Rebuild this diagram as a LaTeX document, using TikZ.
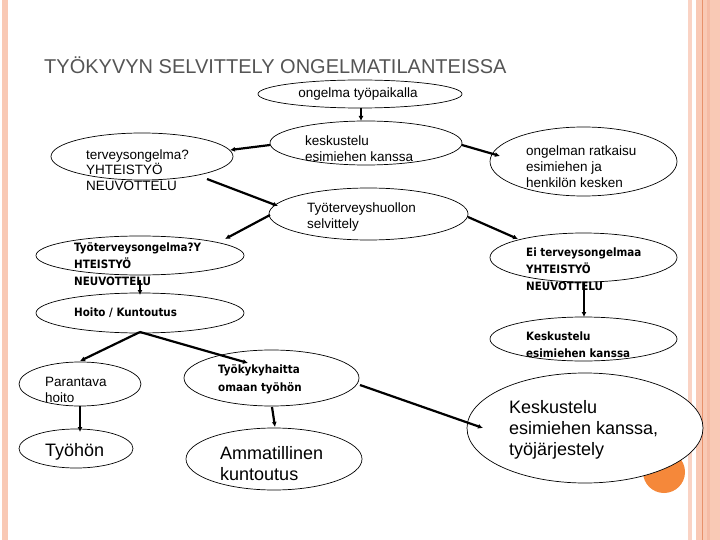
\documentclass[tikz,border=0pt]{standalone}
\usepackage{fontspec}
\setmainfont{Liberation Sans}
\newfontfamily\bnfont{DejaVu Sans Condensed}
\usetikzlibrary{calc,arrows.meta,shapes.geometric}
\definecolor{stripA}{HTML}{F9C9B5}
\definecolor{stripB}{HTML}{FAD3C4}
\definecolor{stripC}{HTML}{F5BBA5}
\definecolor{stripLine}{HTML}{E8916B}
\definecolor{titlegray}{HTML}{555555}
\definecolor{dotorange}{HTML}{F5883A}
\tikzset{
  oval/.style={ellipse, draw=black, line width=0.7pt, fill=white, inner sep=0pt},
  txt/.style={anchor=base west, inner sep=0pt, align=left, text=black},
  small/.style={txt, font=\fontsize{13.5}{16}\selectfont},
  big/.style={txt, font=\fontsize{18}{21}\selectfont},
  narrow/.style={txt, font=\bnfont\bfseries\fontsize{11.5}{17}\selectfont},
  link/.style={line width=2.2pt, -{Latex[length=5pt,width=5pt]}}
}
\begin{document}
\begin{tikzpicture}[x=1pt,y=-1pt]
\useasboundingbox (0,0) rectangle (720,540);
\fill[white] (0,0) rectangle (720,540);
% page borders
\fill[stripA] (2,0) rectangle (8,540);
\fill[stripB] (688,0) rectangle (692,540);
\fill[stripA] (696,0) rectangle (720,540);
\fill[stripC] (707,0) rectangle (710,540);
\fill[stripLine] (701.8,0) rectangle (703,540);
% title
\node[anchor=base west, inner sep=0pt, text=titlegray, font=\fontsize{20}{24}\selectfont] (title) at (44,74) {TYÖKYVYN SELVITTELY ONGELMATILANTEISSA};
% orange dot
\fill[dotorange] (664,472) circle (21);
% ellipses
\node[oval, minimum width=204, minimum height=28] (e1) at (360,94) {};
\node[oval, minimum width=192, minimum height=44] (e2) at (366,143) {};
\node[oval, minimum width=182, minimum height=47] (e3) at (142,156.5) {};
\node[oval, minimum width=187, minimum height=69] (e4) at (583.5,161.5) {};
\node[oval, minimum width=199, minimum height=52] (e5) at (368.5,214) {};
\node[oval, minimum width=208, minimum height=39] (e6) at (140,255.5) {};
\node[oval, minimum width=187, minimum height=49] (e7) at (583.5,257.5) {};
\node[oval, minimum width=208, minimum height=40] (e8) at (140,313) {};
\node[oval, minimum width=187, minimum height=44] (e9) at (583.5,339) {};
\node[oval, minimum width=122, minimum height=44] (e10) at (80,384) {};
\node[oval, minimum width=175, minimum height=56] (e11) at (271.5,378) {};
\node[oval, minimum width=114, minimum height=39] (e12) at (76,448.5) {};
\node[oval, minimum width=176, minimum height=62] (e13) at (274,459) {};
\node[oval, minimum width=236, minimum height=110] (e14) at (585,428) {};
% connectors
\draw[link] ($(e1)+(1,14)$) -- ($(e2)+(-5,-22)$);
\draw[link] ($(e2)+(-96,2)$) -- ($(e3)+(88,-6.5)$);
\draw[link] ($(e2)+(96,2)$) -- ($(e4)+(-83.5,-5.5)$);
\draw[link] ($(e3)+(65,22.5)$) -- ($(e5)+(-90.5,-8)$);
\draw[link] ($(e5)+(-98.5,1)$) -- ($(e6)+(85,-16.5)$);
\draw[link] ($(e5)+(99.5,3)$) -- ($(e7)+(-65.5,-18.5)$);
\draw[link] ($(e6)+(0,24)$) -- ($(e8)+(0,-18)$);
\draw[link] ($(e7)+(0.5,25.5)$) -- ($(e9)+(0.5,-22)$);
\draw[link] ($(e8)+(0,19)$) -- ($(e10)+(0,-23)$);
\draw[link] ($(e8)+(0,19)$) -- ($(e11)+(-23.5,-15)$);
\draw[link] ($(e10)+(0,22)$) -- ($(e12)+(4,-16.5)$);
\draw[link] ($(e11)+(0.5,29)$) -- ($(e13)+(1,-32)$);
\draw[link] ($(e11)+(88.5,7)$) -- ($(e14)+(-102,0)$);
% texts (base = baseline of last line)
\node[anchor=center, inner sep=0pt, font=\fontsize{13.5}{16}\selectfont] (t1) at (358,94) {ongelma työpaikalla};
\node[small] (t2) at (305,162) {keskustelu\\esimiehen kanssa};
\node[small] (t3) at (86,191) {terveysongelma?\\YHTEISTYÖ\\NEUVOTTELU};
\node[small] (t4) at (526,188) {ongelman ratkaisu\\esimiehen ja\\henkilön kesken};
\node[small] (t5) at (307,229) {Työterveyshuollon\\selvittely};
\node[narrow] (t6) at (74,285) {Työterveysongelma?Y\\HTEISTYÖ\\NEUVOTTELU};
\node[narrow] (t7) at (526,290) {Ei terveysongelmaa\\YHTEISTYÖ\\NEUVOTTELU};
\node[narrow] (t8) at (74,316) {Hoito / Kuntoutus};
\node[narrow] (t9) at (526,357) {Keskustelu\\esimiehen kanssa};
\node[small] (t10) at (45,402) {Parantava\\hoito};
\node[narrow, font=\bnfont\bfseries\fontsize{11.5}{18}\selectfont] (t11) at (218,391) {Työkykyhaitta\\omaan työhön};
\node[big] (t12) at (45,456) {Työhön};
\node[big] (t13) at (220,480) {Ammatillinen\\kuntoutus};
\node[big] (t14) at (509,455) {Keskustelu\\esimiehen kanssa,\\työjärjestely};
\end{tikzpicture}
\end{document}
